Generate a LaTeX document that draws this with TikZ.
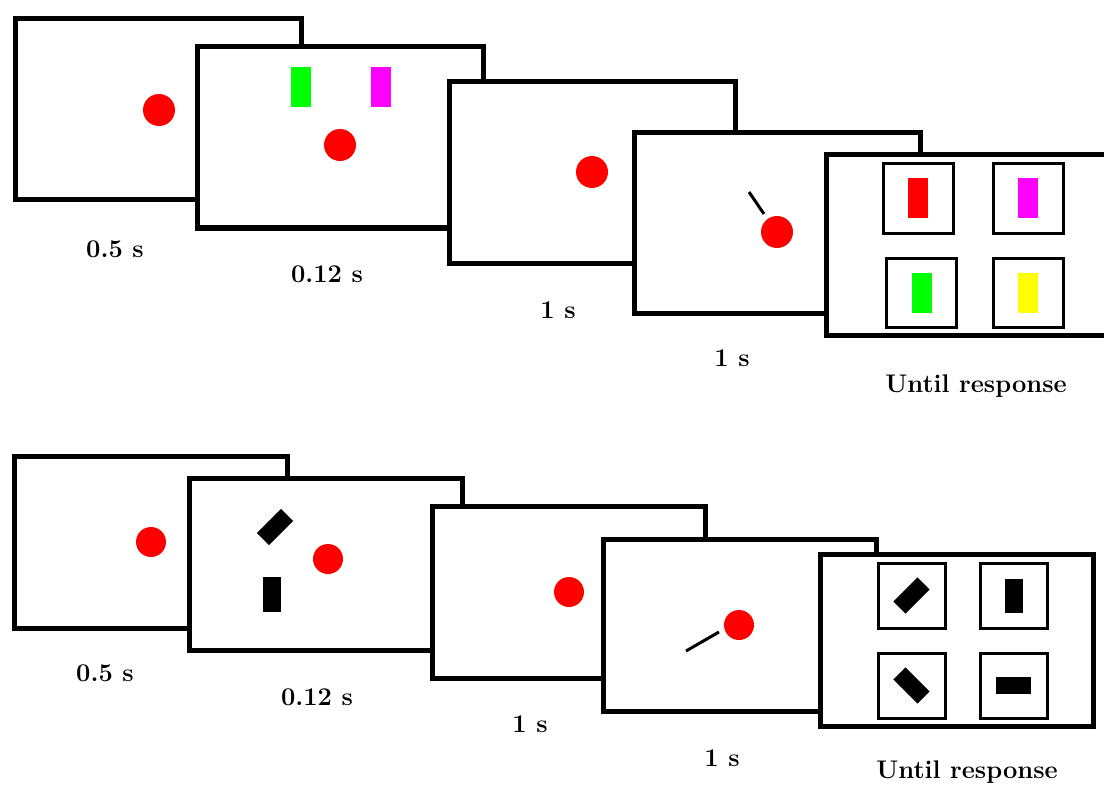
\documentclass[tikz,border=0pt]{standalone}
\usepackage{fontspec}
\definecolor{stimred}{RGB}{255,0,0}
\definecolor{stimgreen}{RGB}{0,255,0}
\definecolor{stimmagenta}{RGB}{255,0,255}
\definecolor{stimyellow}{RGB}{255,255,0}
\begin{document}
\begin{tikzpicture}[x=1pt,y=-1pt]
  \tikzstyle{screen} = [rectangle, draw=black, fill=white, line width=5pt, inner sep=0pt]
  \tikzstyle{topscreen} = [screen, minimum width=286pt, minimum height=181pt]
  \tikzstyle{botscreen} = [screen, minimum width=273pt, minimum height=172pt]
  \tikzstyle{fixdot} = [circle, fill=stimred, inner sep=0pt, minimum size=32pt]
  \tikzstyle{smalldot} = [fixdot, minimum size=30pt]
  \tikzstyle{choice} = [rectangle, draw=black, fill=white, line width=3pt, inner sep=0pt]
  \tikzstyle{stim} = [rectangle, inner sep=0pt, minimum width=20pt, minimum height=40pt]
  \tikzstyle{blk} = [rectangle, fill=black, inner sep=0pt, minimum width=34pt, minimum height=17pt]
  \tikzstyle{cue} = [line width=3pt]
  \tikzstyle{timelbl} = [font=\fontsize{25.5}{30}\selectfont\bfseries]

  \useasboundingbox (0,0) rectangle (1104,789);
  \clip (0,0) rectangle (1104,789);

  % top row: colour task
  \node (t1) [topscreen] at (158.5,109) {};
  \node (t1dot) [fixdot] at (159,110) {};
  \node (t2) [topscreen] at (340,137.5) {};
  \node (t2green) [stim, fill=stimgreen] at (301,87) {};
  \node (t2magenta) [stim, fill=stimmagenta] at (380.5,87) {};
  \node (t2dot) [fixdot] at (340,145) {};
  \node (t3) [topscreen] at (592,172.5) {};
  \node (t3dot) [fixdot] at (592,172) {};
  \node (t4) [topscreen] at (777,223) {};
  \coordinate (t4cue) at (749,192);
  \coordinate (t4cueend) at (764,214);
  \draw [cue] (t4cue) -- (t4cueend);
  \node (t4dot) [fixdot] at (777,232) {};
  \node (t5) [topscreen] at (969.5,245) {};
  \node (t5a) [choice, minimum width=70pt, minimum height=69pt] at (918,198.5) {};
  \node (t5b) [choice, minimum width=70pt, minimum height=69pt] at (1028,198.5) {};
  \node (t5c) [choice, minimum width=70pt, minimum height=69pt] at (921.5,292.5) {};
  \node (t5d) [choice, minimum width=70pt, minimum height=69pt] at (1028,292.5) {};
  \node (t5red) [stim, fill=stimred] at (t5a) {};
  \node (t5magenta) [stim, fill=stimmagenta] at (t5b) {};
  \node (t5green) [stim, fill=stimgreen] at (t5c) {};
  \node (t5yellow) [stim, fill=stimyellow] at (t5d) {};

  \node (t1lbl) [timelbl] at (115,249) {0.5 s};
  \node (t2lbl) [timelbl] at (327,274) {0.12 s};
  \node (t3lbl) [timelbl] at (558,310) {1 s};
  \node (t4lbl) [timelbl] at (732,358) {1 s};
  \node (t5lbl) [timelbl] at (976,386) {Until response};

  % bottom row: orientation task
  \node (b1) [botscreen] at (151,542) {};
  \node (b1dot) [smalldot] at (151,542) {};
  \node (b2) [botscreen] at (325.5,564) {};
  \node (b2tilt) [blk, rotate=45] at (275,527) {};
  \node (b2vert) [blk, minimum width=18pt, minimum height=35pt] at (272,594.5) {};
  \node (b2dot) [smalldot] at (328,559) {};
  \node (b3) [botscreen] at (569,592) {};
  \node (b3dot) [smalldot] at (569,592) {};
  \node (b4) [botscreen] at (740,625.5) {};
  \coordinate (b4cue) at (686,651);
  \coordinate (b4cueend) at (719,632);
  \draw [cue] (b4cue) -- (b4cueend);
  \node (b4dot) [smalldot] at (739,625) {};
  \node (b5) [botscreen] at (957,640.5) {};
  \node (b5a) [choice, minimum width=67pt, minimum height=65pt] at (911.5,595.5) {};
  \node (b5b) [choice, minimum width=67pt, minimum height=65pt] at (1013.5,595.5) {};
  \node (b5c) [choice, minimum width=67pt, minimum height=65pt] at (911.5,685.5) {};
  \node (b5d) [choice, minimum width=67pt, minimum height=65pt] at (1013.5,685.5) {};
  \node (b5tilt) [blk, rotate=45] at (b5a) {};
  \node (b5vert) [blk, minimum width=18pt, minimum height=34pt] at (b5b) {};
  \node (b5back) [blk, rotate=-45] at (b5c) {};
  \node (b5horiz) [blk, minimum width=35pt] at (b5d) {};

  \node (b1lbl) [timelbl] at (105,673) {0.5 s};
  \node (b2lbl) [timelbl] at (317,697) {0.12 s};
  \node (b3lbl) [timelbl] at (530,724) {1 s};
  \node (b4lbl) [timelbl] at (722,758) {1 s};
  \node (b5lbl) [timelbl] at (967,772) {Until response};
\end{tikzpicture}
\end{document}
